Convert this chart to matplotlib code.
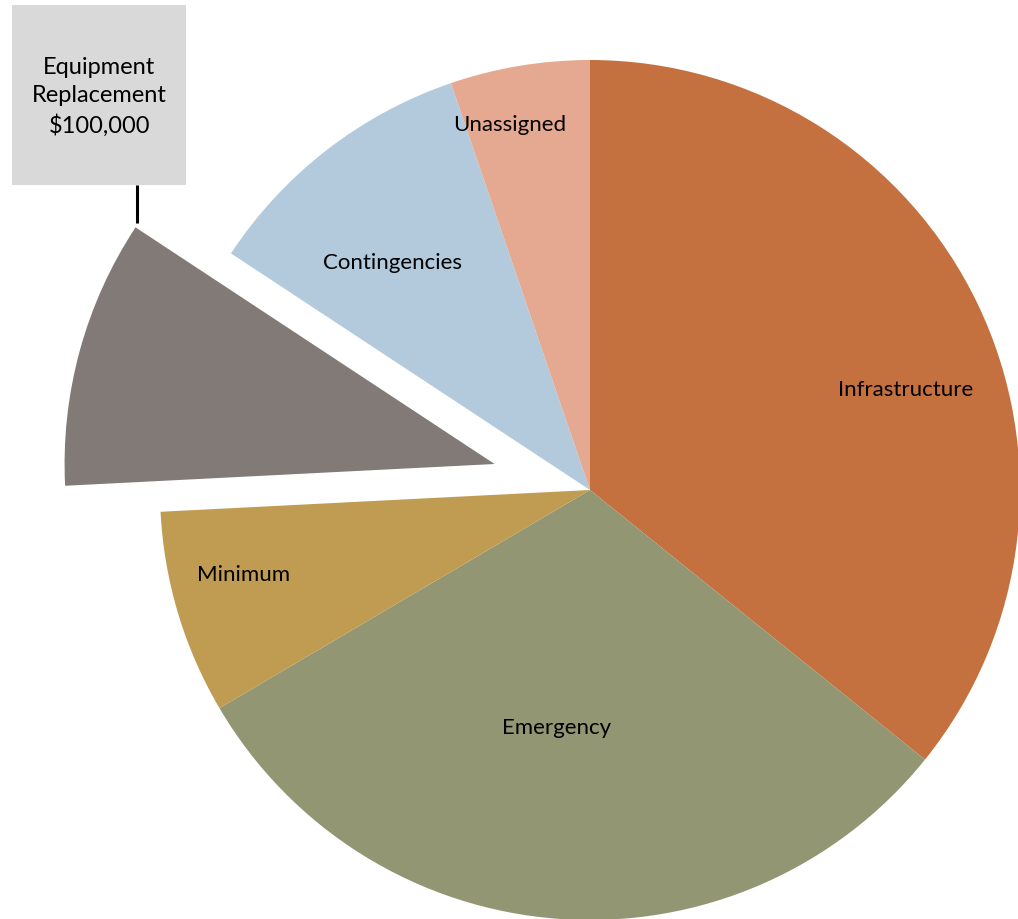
import numpy as np
import matplotlib
matplotlib.use('Agg')
import matplotlib.pyplot as plt
from matplotlib.patches import Rectangle

plt.rcParams['font.family'] = ['Lato', 'DejaVu Sans']

categories = ['Infrastructure', 'Emergency', 'Minimum', 'Equipment Replacement',
              'Contingencies', 'Unassigned']
amounts = [355000, 305000, 76000, 100000, 104000, 52000]
colors = ['#C4713F', '#939672', '#BF9C51', '#827A77', '#B3CADD', '#E4A990']
explode = [0, 0, 0, 0.23, 0, 0]
# label placement inside each slice: (radius fraction, angle in degrees)
label_pos = [(0.77, 17.6), (0.56, 262.0), (0.83, 193.7), None,
             (0.70, 131.0), (0.87, 102.4)]

fig = plt.figure(figsize=(10.18, 9.19), dpi=100)
ax = fig.add_axes([0, 0, 1, 1])

wedges, _ = ax.pie(amounts, colors=colors, explode=explode, startangle=90,
                   counterclock=False, radius=1.0,
                   wedgeprops=dict(linewidth=0))

for name, pos in zip(categories, label_pos):
    if pos is None:
        continue
    r, a = pos
    a = np.deg2rad(a)
    ax.text(r * np.cos(a), r * np.sin(a), name, ha='center', va='center',
            fontsize=16, color='black')

# callout box + leader line for the pulled-out slice
ax.add_patch(Rectangle((-1.344, 0.709), 0.4045, 0.419, fc='#D9D9D9', ec='none',
                       zorder=3))
ax.plot([-1.0535, -1.0535], [0.709, 0.621], color='black', lw=2.2,
        solid_capstyle='butt', zorder=3)
ax.text(-1.1415, 0.914, 'Equipment\nReplacement\n$%s' % format(amounts[3], ','),
        ha='center', va='center', fontsize=17, linespacing=1.45, zorder=4)

ax.set_xlim(-590 / 430, (1018 - 590) / 430)
ax.set_ylim(-(919 - 490) / 430, 490 / 430)
ax.set_aspect('equal')
ax.axis('off')

fig.savefig('out.png', dpi=100)
